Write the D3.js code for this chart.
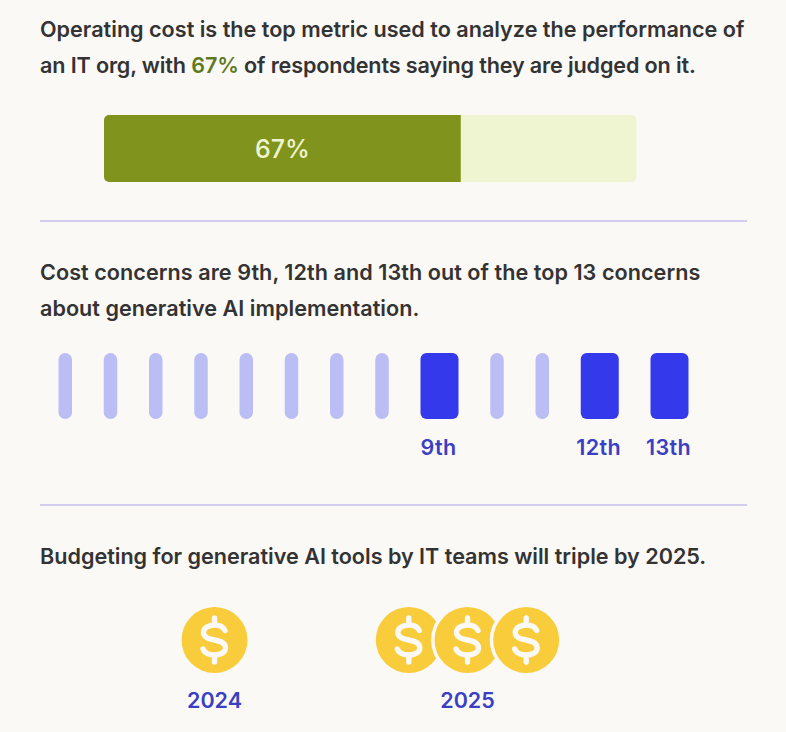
<!DOCTYPE html>
<html>
<head>
<meta charset="utf-8">
<script src="https://cdn.jsdelivr.net/npm/d3@7"></script>
<style>
  html, body { margin: 0; padding: 0; background: #fbf9f6; }
  svg { display: block; font-family: Inter, sans-serif; }
  .title { font-size: 21.6px; font-weight: 600; fill: #333333; }
  .label { font-size: 21.5px; font-weight: 600; fill: #3a3fc4; }
  .rankLabel { letter-spacing: 0.4px; }
</style>
</head>
<body>
<svg id="chart" width="786" height="732"></svg>
<script>
// panel 1
const titleOne = [
  [['Operating cost is the top metric used to analyze the performance of', false]],
  [['an IT org, with ', false], ['67%', true], [' of respondents saying they are judged on it.', false]],
];
const shareValue = 67;
const shareMax = 100;

// panel 2
const titleTwo = [
  [['Cost concerns are 9th, 12th and 13th out of the top 13 concerns', false]],
  [['about generative AI implementation.', false]],
];
const concernRanks = [1, 2, 3, 4, 5, 6, 7, 8, 9, 10, 11, 12, 13];
const costRanks = [9, 12, 13];
const rankLabels = { 9: '9th', 12: '12th', 13: '13th' };

// panel 3
const titleThree = [[['Budgeting for generative AI tools by IT teams will triple by 2025.', false]]];
const budgetYears = ['2024', '2025'];
const budgetMultiples = [1, 3];

const svg = d3.select('#chart');
const bg = '#fbf9f6';

// spacing nudges each line to the width it has in the reference
function drawTitle(lines, y0, spacing) {
  lines.forEach((parts, i) => {
    let t = svg.append('text').attr('class', 'title').attr('x', 40).attr('y', y0 + i * 36)
      .style('letter-spacing', spacing[i] + 'px');
    parts.forEach(([s, hi]) => {
      t.append('tspan').text(s).style('fill', hi ? '#5f7a1c' : null);
    });
  });
}

function divider(y) {
  svg.append('line').attr('x1', 40).attr('x2', 747).attr('y1', y).attr('y2', y)
    .attr('stroke', '#c5bfec').attr('stroke-width', 1.5);
}

// --- share bar
drawTitle(titleOne, 37, [0, -0.14]);

const x = d3.scaleLinear().domain([0, shareMax]).range([104, 636.5]);
const barTop = 115, barH = 67;

svg.append('clipPath').attr('id', 'shareClip').append('rect')
  .attr('x', x(0)).attr('y', barTop).attr('width', x(shareValue) - x(0)).attr('height', barH);

svg.append('rect').attr('x', x(0)).attr('y', barTop)
  .attr('width', x(shareMax) - x(0)).attr('height', barH).attr('rx', 5)
  .attr('fill', '#eff5d0');
svg.append('rect').attr('x', x(0)).attr('y', barTop)
  .attr('width', x(shareMax) - x(0)).attr('height', barH).attr('rx', 5)
  .attr('fill', '#80931c').attr('clip-path', 'url(#shareClip)');
svg.append('text').attr('x', (x(0) + x(shareValue)) / 2).attr('y', barTop + barH / 2 + 9)
  .attr('text-anchor', 'middle').attr('font-size', 25).attr('font-weight', 500)
  .attr('fill', '#eff5d0').text(shareValue + '%');

divider(221);

// --- concern ranks: thin and wide bars, same gap between them
drawTitle(titleTwo, 280, [0.05, 0.03]);

const rankWidth = d3.scaleOrdinal().domain([false, true]).range([13.5, 38]);
const rankGap = 31.75;
const isCost = (r) => costRanks.includes(r);
const rankStart = new Map();
let cursor = 58.5;
concernRanks.forEach((r) => {
  rankStart.set(r, cursor);
  cursor += rankWidth(isCost(r)) + rankGap;
});

svg.selectAll('.rank').data(concernRanks).join('rect')
  .attr('class', 'rank')
  .attr('x', (r) => rankStart.get(r))
  .attr('y', 353)
  .attr('width', (r) => rankWidth(isCost(r)))
  .attr('height', 66)
  .attr('rx', (r) => (isCost(r) ? 6 : 6.7))
  .attr('fill', (r) => (isCost(r) ? '#3439ec' : '#bbbdf5'));

svg.selectAll('.rankLabel').data(costRanks).join('text')
  .attr('class', 'label rankLabel')
  .attr('x', (r) => rankStart.get(r) + rankWidth(true) / 2 - 1)
  .attr('y', 455)
  .attr('text-anchor', 'middle')
  .text((r) => rankLabels[r]);

divider(505);

// --- coins
drawTitle(titleThree, 564, [-0.01]);

const coinR = 33, coinY = 640, coinStep = 58.7;
const yearX = d3.scaleOrdinal().domain(budgetYears).range([214.5, 467.5]);

// dollar icon, rounded strokes around the coin centre
const dollarIcon = 'M10.5,-9.5C9,-13 5,-15 0,-15C-6,-15 -11,-12 -11,-7.5C-11,-2.5 -6,-1 0,0C6,1 11,3 11,8C11,12.5 6,15 0,15C-5,15 -10,13 -11.5,9M0,-22V-15M0,15V22';

budgetYears.forEach((year, i) => {
  const n = budgetMultiples[i];
  const g = svg.append('g');
  const coins = g.selectAll('g').data(d3.range(n)).join('g')
    .attr('transform', (k) => `translate(${yearX(year) + (k - (n - 1) / 2) * coinStep},${coinY})`);
  coins.append('circle').attr('r', coinR + 3.5).attr('fill', (k) => (k === 0 ? 'none' : bg));
  coins.append('circle').attr('r', coinR).attr('fill', '#f8cc3a');
  coins.append('path').attr('d', dollarIcon).attr('fill', 'none')
    .attr('stroke', bg).attr('stroke-width', 5.4).attr('stroke-linecap', 'round');
  svg.append('text').attr('class', 'label').attr('x', yearX(year)).attr('y', 708)
    .attr('text-anchor', 'middle').text(year);
});
</script>
</body>
</html>
